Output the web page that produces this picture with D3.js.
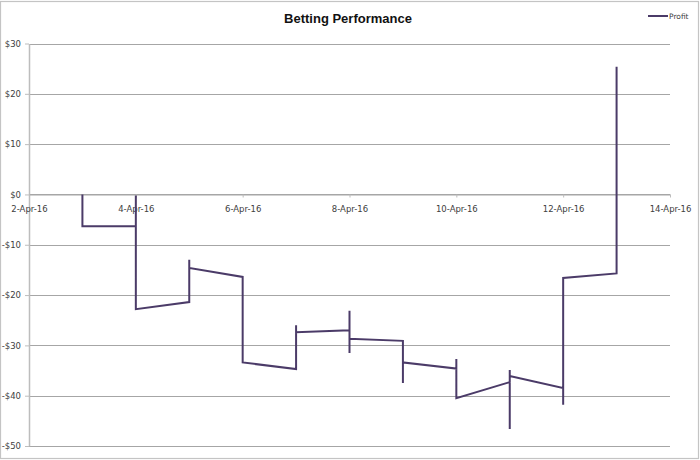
<!DOCTYPE html>
<html>
<head>
<meta charset="utf-8">
<script src="https://d3js.org/d3.v7.min.js"></script>
<style>
  html, body { margin: 0; padding: 0; background: #fff; }
  svg { display: block; }
</style>
</head>
<body>
<svg id="chart" width="700" height="460"></svg>
<script>
// ---- data ----
const dates = [
  "2016-04-03","2016-04-03",
  "2016-04-04","2016-04-04","2016-04-04",
  "2016-04-05","2016-04-05","2016-04-05",
  "2016-04-06","2016-04-06",
  "2016-04-07","2016-04-07","2016-04-07",
  "2016-04-08","2016-04-08","2016-04-08","2016-04-08",
  "2016-04-09","2016-04-09","2016-04-09",
  "2016-04-10","2016-04-10","2016-04-10",
  "2016-04-11","2016-04-11","2016-04-11","2016-04-11",
  "2016-04-12","2016-04-12","2016-04-12",
  "2016-04-13","2016-04-13"
];
const profit = [
  0, -6.3,
  -6.3, -0.2, -22.8,
  -21.4, -13.0, -14.6,
  -16.4, -33.4,
  -34.7, -26.0, -27.4,
  -27.0, -23.1, -31.5, -28.7,
  -29.1, -37.5, -33.4,
  -34.6, -32.7, -40.5,
  -37.3, -34.9, -46.6, -36.1,
  -38.5, -41.8, -16.6,
  -15.7, 25.4
];
const xTickDates = ["2016-04-02","2016-04-04","2016-04-06","2016-04-08","2016-04-10","2016-04-12","2016-04-14"];
const yTicks = [30, 20, 10, 0, -10, -20, -30, -40, -50];
const seriesName = "Profit";
const chartTitle = "Betting Performance";

// ---- setup ----
const parse = d3.utcParse("%Y-%m-%d");
const points = dates.map((d, i) => ({ date: parse(d), value: profit[i] }));
const svg = d3.select("#chart");
const plotLeft = 29, plotRight = 670, plotTop = 43.5, plotBottom = 446;
const lineColor = "#4b3b68";
const gridColor = "#a6a6a6";

const x = d3.scaleUtc()
  .domain([parse(xTickDates[0]), parse(xTickDates[xTickDates.length - 1])])
  .range([plotLeft, plotRight]);
const y = d3.scaleLinear().domain([-50, 30]).range([plotBottom, plotTop]);

// outer border
svg.append("rect")
  .attr("x", 0.5).attr("y", 1.5).attr("width", 698).attr("height", 457)
  .attr("fill", "#fff").attr("stroke", "#c4c4c4").attr("stroke-width", 1.2);

// gridlines
svg.append("g").selectAll("line").data(yTicks).join("line")
  .attr("x1", plotLeft).attr("x2", plotRight)
  .attr("y1", d => Math.round(y(d)) + 0.5).attr("y2", d => Math.round(y(d)) + 0.5)
  .attr("stroke", gridColor).attr("stroke-width", 1);

// y axis
const fmt = v => (v < 0 ? "-$" : "$") + Math.abs(v);
const yAxis = svg.append("g")
  .attr("transform", `translate(${plotLeft},0)`)
  .call(d3.axisLeft(y).tickValues(yTicks).tickFormat(fmt).tickSize(4).tickSizeOuter(0).tickPadding(4));
yAxis.select(".domain").attr("stroke", "#bdbdbd").attr("stroke-width", 1.5);
yAxis.selectAll(".tick line").attr("stroke", "#bdbdbd");
yAxis.selectAll("text")
  .attr("font-family", "'DejaVu Sans', sans-serif")
  .attr("font-size", 8.5).attr("fill", "#404040");

// x axis at zero
const xAxis = svg.append("g")
  .attr("transform", `translate(0,${Math.round(y(0)) + 0.5})`)
  .call(d3.axisBottom(x).tickValues(xTickDates.map(parse))
    .tickFormat(d3.utcFormat("%-d-%b-%y")).tickSize(3).tickSizeOuter(0).tickPadding(8));
xAxis.select(".domain").attr("stroke", gridColor);
xAxis.selectAll(".tick line").attr("stroke", "#bdbdbd");
xAxis.selectAll("text")
  .attr("font-family", "'DejaVu Sans', sans-serif")
  .attr("font-size", 8.5).attr("fill", "#404040");

// line
const line = d3.line().x(d => x(d.date)).y(d => y(d.value));
svg.append("path")
  .datum(points)
  .attr("d", line)
  .attr("fill", "none")
  .attr("stroke", lineColor)
  .attr("stroke-width", 2)
  .attr("stroke-linejoin", "miter");

// title
svg.append("text")
  .attr("x", 348).attr("y", 23)
  .attr("text-anchor", "middle")
  .attr("font-family", "'Liberation Sans', Arial, sans-serif")
  .attr("font-weight", "bold")
  .attr("font-size", 13)
  .attr("fill", "#111")
  .text(chartTitle);

// legend
svg.append("line")
  .attr("x1", 648).attr("x2", 668).attr("y1", 16).attr("y2", 16)
  .attr("stroke", lineColor).attr("stroke-width", 2);
svg.append("text")
  .attr("x", 669).attr("y", 19)
  .attr("font-family", "'DejaVu Sans', sans-serif")
  .attr("font-size", 7.5).attr("fill", "#404040")
  .text(seriesName);
</script>
</body>
</html>
